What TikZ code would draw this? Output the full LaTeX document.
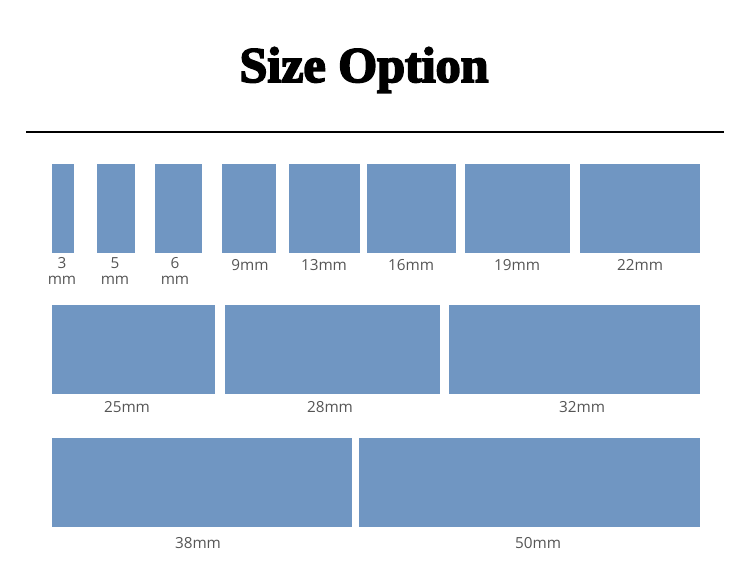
\documentclass[tikz,border=0pt]{standalone}
\usepackage{fontspec}
\usepackage{tikz}
\newfontfamily\titlefont{Liberation Serif}[BoldFeatures={FakeBold=3.5}]
\newfontfamily\labelfont{Open Sans}
\definecolor{padblue}{HTML}{7096C2}
\definecolor{labelgray}{HTML}{555555}
\newcommand{\padcolor}{padblue}
\newcommand{\pad}[4]
{   \fill[\padcolor] (#1,#3) rectangle (#2,#4);
}
\tikzset{sizelabel/.style={text=labelgray,font=\labelfont\fontsize{8.7}{9}\selectfont,align=center,inner sep=0pt}}

\begin{document}
\begin{tikzpicture}[x=0.02cm,y=-0.02cm]
 \useasboundingbox (0,0) rectangle (750,568);

 \node (title) at (364,70) {\titlefont\bfseries\fontsize{28.5}{32}\selectfont Size Option};
 \coordinate (ruleL) at (26,132);
 \coordinate (ruleR) at (724,132);
 \draw[line width=0.6pt] (ruleL) -- (ruleR);

 % first row
 \pad{52}{74}{164}{253} \pad{97}{135}{164}{253} \pad{155}{202}{164}{253}
 \pad{222}{276}{164}{253} \pad{289}{360}{164}{253} \pad{367}{456}{164}{253}
 \pad{465}{570}{164}{253} \pad{580}{700}{164}{253}
   \node[sizelabel] (s3) at (62,271) {3\\mm};
   \node[sizelabel] (s5) at (115,271) {5\\mm};
   \node[sizelabel] (s6) at (175,271) {6\\mm};
   \node[sizelabel] (s9) at (250,265) {9mm};
   \node[sizelabel] (s13) at (324,265) {13mm};
   \node[sizelabel] (s16) at (411,265) {16mm};
   \node[sizelabel] (s19) at (517,265) {19mm};
   \node[sizelabel] (s22) at (640,265) {22mm};

 % second row
 \pad{52}{215}{305}{394} \pad{225}{440}{305}{394} \pad{449}{700}{305}{394}
   \node[sizelabel] (s25) at (127,407) {25mm};
   \node[sizelabel] (s28) at (330,407) {28mm};
   \node[sizelabel] (s32) at (582,407) {32mm};

 % third row
 \pad{52}{352}{438}{527} \pad{359}{700}{438}{527}
   \node[sizelabel] (s38) at (198,543) {38mm};
   \node[sizelabel] (s50) at (538,543) {50mm};

\end{tikzpicture}
\end{document}
